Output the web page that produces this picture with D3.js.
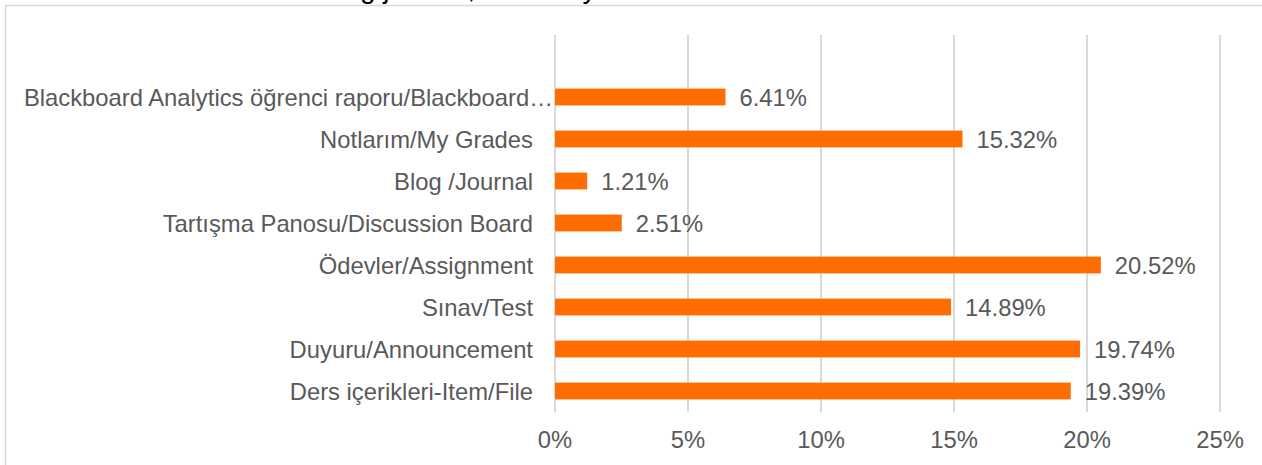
<!DOCTYPE html>
<html>
<head>
<meta charset="utf-8">
<script src="https://cdn.jsdelivr.net/npm/d3@7"></script>
<style>
  html, body { margin: 0; padding: 0; background: #fff; overflow: hidden; }
  svg { display: block; }
  text { font-family: "Liberation Sans", Arial, sans-serif; fill: #595959; }
</style>
</head>
<body>
<svg id="chart" width="1262" height="465"></svg>
<script>
const categories = [
  "Blackboard Analytics öğrenci raporu/Blackboard…",
  "Notlarım/My Grades",
  "Blog /Journal",
  "Tartışma Panosu/Discussion Board",
  "Ödevler/Assignment",
  "Sınav/Test",
  "Duyuru/Announcement",
  "Ders içerikleri-Item/File"
];
const values = [6.41, 15.32, 1.21, 2.51, 20.52, 14.89, 19.74, 19.39];
const tickValues = [0, 5, 10, 15, 20, 25];
const tickLabels = ["0%", "5%", "10%", "15%", "20%", "25%"];
const titleText = "Using journal, the study";

const W = 1262, H = 465;
const svg = d3.select("#chart");
const fontSize = 23.8;

// outer chart border (extends beyond the visible window)
svg.append("rect")
  .attr("x", 5.5).attr("y", 5.5)
  .attr("width", W + 20).attr("height", H + 20)
  .attr("fill", "#fff")
  .attr("stroke", "#d9d9d9").attr("stroke-width", 1.5);

// partially visible title (cut off at the top, as in the reference)
svg.append("text")
  .attr("x", 304).attr("y", -2)
  .attr("font-size", 28)
  .style("fill", "#000")
  .text(titleText);

const plotLeft = 555, plotRight = 1220;
const gridTop = 35, plotBottom = 412, bandTop = 76;

const x = d3.scaleLinear().domain([0, 25]).range([plotLeft, plotRight]);
const y = d3.scaleBand().domain(categories).range([bandTop, plotBottom])
  .paddingInner(0.6).paddingOuter(0.3);

// gridlines
svg.append("g").selectAll("line")
  .data(tickValues)
  .join("line")
  .attr("x1", d => x(d)).attr("x2", d => x(d))
  .attr("y1", gridTop).attr("y2", plotBottom)
  .attr("stroke", "#d9d9d9").attr("stroke-width", 2);

// x tick labels
svg.append("g").selectAll("text")
  .data(tickValues)
  .join("text")
  .attr("x", d => x(d))
  .attr("y", 448)
  .attr("text-anchor", "middle")
  .attr("font-size", fontSize)
  .text((d, i) => tickLabels[i]);

// bars
svg.append("g").selectAll("rect")
  .data(values)
  .join("rect")
  .attr("x", x(0))
  .attr("y", (d, i) => y(categories[i]))
  .attr("width", d => x(d) - x(0))
  .attr("height", y.bandwidth())
  .attr("fill", "#ff6d00");

// value labels
svg.append("g").selectAll("text")
  .data(values)
  .join("text")
  .attr("x", d => x(d) + 14)
  .attr("y", (d, i) => y(categories[i]) + y.bandwidth() / 2)
  .attr("dy", "0.36em")
  .attr("font-size", fontSize)
  .text(d => d.toFixed(2) + "%");

// category labels (truncated label's ellipsis runs up to the axis)
svg.append("g").selectAll("text")
  .data(categories)
  .join("text")
  .attr("x", d => d.endsWith("…") ? plotLeft - 2 : plotLeft - 22)
  .attr("y", d => y(d) + y.bandwidth() / 2)
  .attr("dy", "0.36em")
  .attr("text-anchor", "end")
  .attr("font-size", fontSize)
  .text(d => d);
</script>
</body>
</html>
